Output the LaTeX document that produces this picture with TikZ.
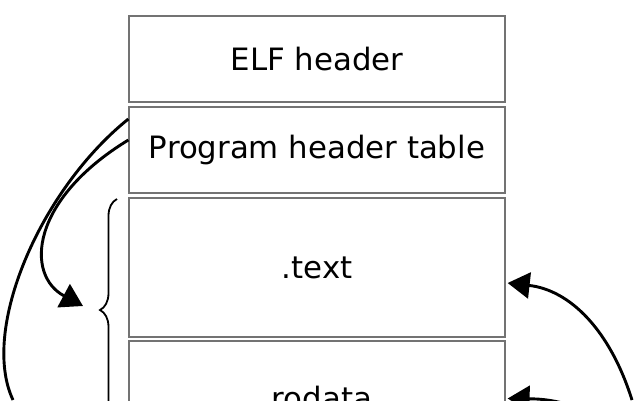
\documentclass[tikz,border=0pt]{standalone}
\usepackage{fontspec}
\setmainfont{DejaVu Sans}
\usetikzlibrary{arrows.meta,decorations.pathreplacing,calc}
\begin{document}
\begin{tikzpicture}[x=1pt,y=-1pt,
  segbox/.style={draw=black!55,line width=1.3pt,minimum width=376pt,inner sep=0pt,
    font=\fontsize{30.8}{36}\selectfont},
  conn/.style={draw=black,line width=2.9pt},
  tip/.style={-{Triangle[length=22pt,width=26pt]}},
  bracestyle/.style={draw=black,line width=1.8pt,decorate,decoration={brace,amplitude=17pt}}]
\clip (0,0) rectangle (640,400);
\fill[white] (0,0) rectangle (640,400);
\node[segbox,minimum height=86pt] (elf) at (317,59) {ELF header};
\node[segbox,minimum height=86pt] (pht) at (317,150) {Program header table};
\node[segbox,minimum height=139pt] (txt) at (317,267.5) {.text};
\node[segbox,minimum height=115pt] (rod) at (317,398.5) {.rodata};
% brace
\coordinate (bt) at (117,199);
\coordinate (bb) at (117,421);
\draw[bracestyle] (bb) -- (bt);
% left connectors
\coordinate (intip) at (83,306);
\coordinate (outend) at (13,400);
\draw[conn,tip] ([yshift=10pt]pht.west) .. controls (30,200) and (25,275) .. (intip);
\draw[conn] ([yshift=31pt]pht.west) .. controls (40,190) and (-20,330) .. (outend);
% right connectors
\coordinate (r1) at (632,400);
\coordinate (r2) at (640,440);
\draw[conn,tip] (r1) .. controls (610,330) and (570,290) .. ([xshift=2pt,yshift=-15.5pt]txt.east);
\draw[conn,tip] (r2) .. controls (580,400) and (545,399) .. ([xshift=2pt]rod.east);
\end{tikzpicture}
\end{document}
